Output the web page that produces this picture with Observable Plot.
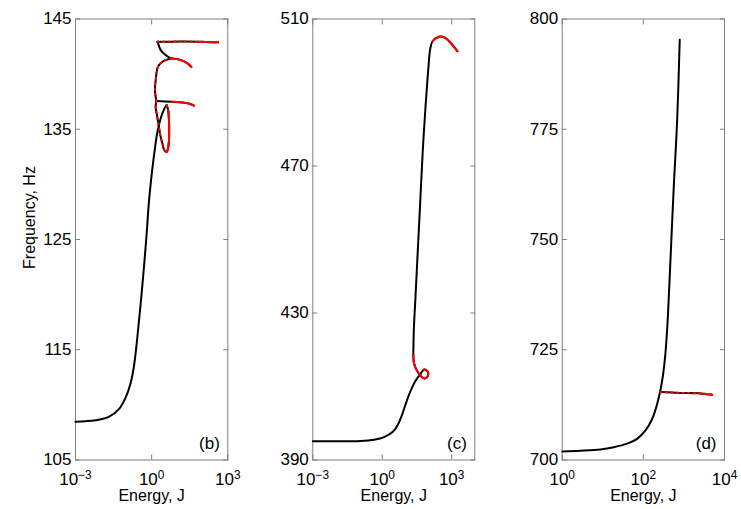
<!DOCTYPE html>
<html><head><meta charset="utf-8">
<script src="https://cdn.jsdelivr.net/npm/d3@7"></script>
<script src="https://cdn.jsdelivr.net/npm/@observablehq/plot@0.6"></script>
<style>
body{margin:0;background:#fff;}
#wrap{position:relative;width:741px;height:509px;overflow:hidden;}
#wrap svg{position:absolute;top:0;}
</style></head><body><div id="wrap"></div>
<script>
// ---------- Panel (b) ----------
const bMainE = [0.001, 0.0025, 0.00617, 0.0206, 0.0513, 0.0942, 0.148, 0.2, 0.273, 0.368, 0.497, 0.635, 0.79, 1.047, 1.315, 1.649, 2.168, 2.642, 3.573, 3.908];
const bMainF = [108.48, 108.52, 108.61, 108.91, 109.61, 110.66, 111.97, 113.48, 116.12, 119.15, 122.48, 125.52, 128.55, 131.27, 133.09, 134.64, 135.82, 136.43, 137.09, 137.18];
const bLoopE = [3.908, 4.477, 4.819, 4.898, 4.819, 4.467, 3.908, 3.162, 2.642, 2.128, 1.941, 1.574, 1.439, 1.531];
const bLoopF = [137.18, 136.73, 135.82, 134.9, 134.0, 133.3, 132.94, 133.1, 133.7, 134.61, 135.21, 136.43, 137.03, 137.57];
const b137E = [1.531, 6.31, 19.95, 31.6, 46.8];
const b137F = [137.57, 137.5, 137.4, 137.32, 137.15];
const bUpE = [1.531, 1.349, 1.439, 1.774, 2.642, 5.623];
const bUpF = [137.57, 138.55, 139.45, 140.66, 141.12, 141.43];
const b141E = [5.623, 13.96, 25.1, 36.9];
const b141F = [141.43, 141.27, 141.0, 140.66];
const bArcE = [5.623, 3.573, 2.265, 1.82, 1.679];
const bArcF = [141.43, 141.73, 142.18, 142.75, 142.94];
const b143E = [1.679, 13.96, 63, 414];
const b143F = [142.94, 142.95, 142.94, 142.88];
const bTicksX = [1e-3, 1, 1e3];
const bTicksY = [105, 115, 125, 135, 145];

// ---------- Panel (c) ----------
const cMainE = [0.001, 0.0162, 0.1186, 0.4457, 1.205, 2.78, 4.571, 7.516, 10.99, 17.18, 28.25, 46.45];
const cMainF = [395.1, 395.1, 395.14, 395.52, 396.23, 397.59, 399.42, 402.61, 405.77, 408.96, 411.69, 413.52];
const cLoopE = [46.45, 64.57, 90.57, 96.16, 69.18, 46.45, 34.51, 26.92, 23.17, 22.03];
const cLoopF = [413.52, 414.61, 414.14, 413.05, 412.15, 412.78, 413.95, 415.23, 416.6, 418.51];
const cRiseE = [22.03, 23.17, 26.92, 34.51, 44.26, 56.75, 72.78, 81.85, 100, 117.2, 148.9, 287.1, 472.1, 776.2, 1791];
const cRiseF = [418.51, 425.33, 433.51, 447.14, 460.78, 474.41, 485.32, 489.87, 497.13, 501.68, 503.95, 505.15, 505.04, 503.95, 501.22];
const cTicksX = [1e-3, 1, 1e3];
const cTicksY = [390, 430, 470, 510];

// ---------- Panel (d) ----------
const dMainE = [1, 2.825, 8.77, 18.66, 39.9, 70.3, 112.7, 164.8, 218.8, 263.6, 307.6, 346, 377, 403.6, 464.9, 561.0, 680.8, 788.8];
const dMainF = [701.93, 702.1, 702.4, 702.9, 703.7, 704.8, 706.7, 709.3, 712.7, 715.8, 719.5, 723.7, 728.2, 732.8, 745.2, 761.8, 777.0, 795.3];
const dBranchE = [263.6, 820.4, 2547, 4955];
const dBranchF = [715.4, 715.2, 715.1, 714.8];
const dTicksX = [1, 1e2, 1e4];
const dTicksY = [700, 725, 750, 775, 800];

const rows = (E, F) => E.map((e, i) => ({E: e, F: F[i]}));
const fmtPow = d => "10^" + String(Math.round(Math.log10(d))).replace("-", "\u2212");
const gray = "#7f7f7f";

function panel(o) {
  const line = (r, opts) => Plot.line(r, {x: "E", y: "F", strokeWidth: 2, curve: "catmull-rom", ...opts});
  const marks = [
    Plot.frame({stroke: gray}),
    Plot.axisX({anchor: "bottom", ticks: o.xTicks, tickFormat: fmtPow, tickSize: -5, tickPadding: 17.5, stroke: gray, fill: "black", label: null, fontSize: 17}),
    Plot.axisX({anchor: "top", ticks: o.xTicks, tickFormat: () => "", tickSize: -5, stroke: gray, label: null}),
    Plot.axisY({anchor: "left", ticks: o.yTicks, tickSize: -5, tickPadding: 9, stroke: gray, fill: "black", label: null, fontSize: 17}),
    Plot.axisY({anchor: "right", ticks: o.yTicks, tickFormat: () => "", tickSize: -5, stroke: gray, label: null}),
    ...o.black.map(r => line(r, {stroke: "black"})),
    ...o.mixed.map(r => line(r, {stroke: "red", strokeDasharray: "1.5,4"})),
    ...o.red.map(r => line(r, {stroke: "red"})),
    Plot.text([o.tag], {frameAnchor: "bottom-right", dx: -8, dy: -16, textAnchor: "end", lineAnchor: "middle", fontSize: 17, fill: "black"}),
    Plot.text(["Energy, J"], {frameAnchor: "bottom", dy: 36, textAnchor: "middle", lineAnchor: "middle", fontSize: 16, fill: "black"})
  ];
  if (o.ylabel) marks.push(Plot.text([o.ylabel], {frameAnchor: "left", dx: -46, dy: -22, rotate: -90, textAnchor: "middle", lineAnchor: "middle", fontSize: 16, fill: "black"}));
  const svg = Plot.plot({
    width: o.width, height: 509,
    marginLeft: o.mL, marginRight: o.mR, marginTop: 18.5, marginBottom: 49.5,
    x: {type: "log", domain: o.xDomain},
    y: {domain: o.yDomain},
    style: {fontFamily: "'Liberation Sans', Arial, sans-serif", fontSize: "17px", background: "transparent", color: "black"},
    marks
  });
  d3.select(svg).selectAll('g[aria-label="x-axis tick label"] text').each(function () {
    const s = this.textContent;
    if (!s.includes("^")) return;
    const [b, e] = s.split("^");
    const t = d3.select(this);
    t.text(b);
    t.append("tspan").attr("dy", "-0.5em").attr("font-size", "0.7em").text(e);
  });
  svg.style.position = "absolute";
  svg.style.left = o.left + "px";
  svg.style.top = "0px";
  document.getElementById("wrap").appendChild(svg);
}

panel({
  left: 0, width: 250, mL: 75, mR: 22.7,
  xDomain: [1e-3, 1e3], yDomain: [105, 145], xTicks: bTicksX, yTicks: bTicksY,
  tag: "(b)", ylabel: "Frequency, Hz",
  black: [rows(bMainE, bMainF), rows(b137E, b137F), rows(b141E, b141F), rows(b143E, b143F), rows(bLoopE, bLoopF), rows(bUpE, bUpF), rows(bArcE, bArcF)],
  mixed: [rows(bLoopE, bLoopF), rows(bUpE, bUpF), rows(b143E, b143F)],
  red: [rows(b137E, b137F).slice(1), rows(b141E, b141F), rows(bLoopE, bLoopF).slice(1, 7), rows(b143E, b143F).filter(d => d.E >= 63)]
});

panel({
  left: 250, width: 245, mL: 62.3, mR: 20.7,
  xDomain: [1e-3, 1e4], yDomain: [390, 510], xTicks: cTicksX, yTicks: cTicksY,
  tag: "(c)",
  black: [rows(cMainE, cMainF), rows(cLoopE, cLoopF), rows(cRiseE, cRiseF)],
  mixed: [],
  red: [rows(cLoopE, cLoopF).slice(1), rows(cRiseE, cRiseF).filter(d => d.E >= 148.9)]
});

panel({
  left: 495, width: 246, mL: 66.7, mR: 17,
  xDomain: [1, 1e4], yDomain: [700, 800], xTicks: dTicksX, yTicks: dTicksY,
  tag: "(d)",
  black: [rows(dMainE, dMainF), rows(dBranchE, dBranchF)],
  mixed: [rows(dBranchE, dBranchF)],
  red: [rows(dBranchE, dBranchF).filter(d => d.E >= 2547)]
});
</script></body></html>
